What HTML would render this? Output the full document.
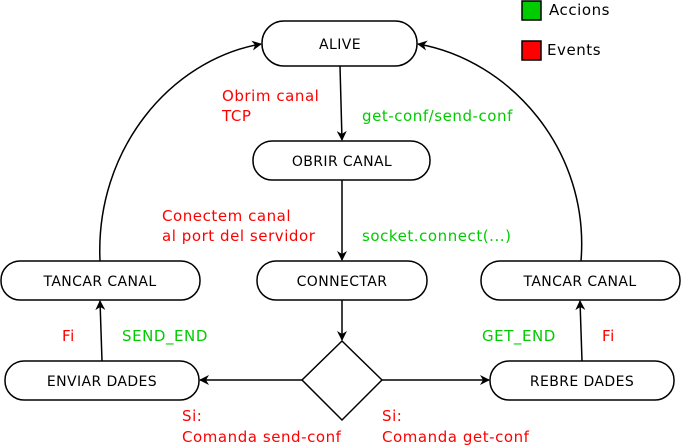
<!DOCTYPE html>
<html><head><meta charset="utf-8"><style>
html,body{margin:0;padding:0;background:#fff;}
svg{display:block;font-family:"DejaVu Sans","Liberation Sans",sans-serif;font-size:15px;letter-spacing:0.55px;}
</style></head><body>
<svg width="681" height="445" viewBox="0 0 681 445" xmlns="http://www.w3.org/2000/svg">
<defs><marker id="a" markerWidth="10" markerHeight="10" refX="9" refY="5" orient="auto" markerUnits="userSpaceOnUse"><path d="M0,0 L10,5 L0,10 L3,5 z" fill="#000"/></marker></defs>
<g fill="#fff" stroke="#000" stroke-width="1.5">
<rect x="262" y="21" width="155" height="45" rx="22"/>
<rect x="253" y="141" width="177" height="39" rx="19"/>
<rect x="257" y="261" width="170" height="39" rx="19"/>
<rect x="1" y="261" width="199" height="39" rx="19"/>
<rect x="481" y="261" width="199" height="39" rx="19"/>
<rect x="5" y="361" width="194" height="39" rx="19"/>
<rect x="490" y="361" width="184" height="39" rx="19"/>
<path d="M342,341 L382,380 L342,420 L302,380 z"/>
</g>
<rect x="522" y="1" width="19" height="19" fill="#00cc00" stroke="#000" stroke-width="1.5"/>
<rect x="522" y="41" width="19" height="19" fill="#ff0000" stroke="#000" stroke-width="1.5"/>
<g fill="none" stroke="#000" stroke-width="1.5" marker-end="url(#a)">
<path d="M340,66 L342,140"/>
<path d="M342,180 L342,260"/>
<path d="M342,300 L342,340"/>
<path d="M302,380 L200,380"/>
<path d="M382,380 L489,380"/>
<path d="M102,361 L100,301"/>
<path d="M582,361 L580,301"/>
<path d="M100,261 C95,150 170,60 261,44"/>
<path d="M581,261 C590,150 510,60 418,44"/>
</g>
<g text-anchor="middle" style="font-size:14px;letter-spacing:0.4px">
<text x="340" y="49">ALIVE</text>
<text x="342" y="166">OBRIR CANAL</text>
<text x="342" y="286">CONNECTAR</text>
<text x="100" y="286">TANCAR CANAL</text>
<text x="580" y="286">TANCAR CANAL</text>
<text x="102" y="386">ENVIAR DADES</text>
<text x="582" y="386">REBRE DADES</text>
</g>
<text x="549" y="15">Accions</text>
<text x="547" y="55">Events</text>
<g fill="#ff0000">
<text x="222" y="101">Obrim canal</text><text x="222" y="121">TCP</text>
<text x="162" y="221">Conectem canal</text><text x="162" y="241">al port del servidor</text>
<text x="62" y="341">Fi</text><text x="602" y="341">Fi</text>
<text x="182" y="421">Si:</text><text x="182" y="442">Comanda send-conf</text>
<text x="382" y="421">Si:</text><text x="382" y="442">Comanda get-conf</text>
</g>
<g fill="#00cc00">
<text x="362" y="121">get-conf/send-conf</text>
<text x="362" y="241">socket.connect(...)</text>
<text x="122" y="341">SEND_END</text>
<text x="482" y="341">GET_END</text>
</g>
</svg>
</body></html>
